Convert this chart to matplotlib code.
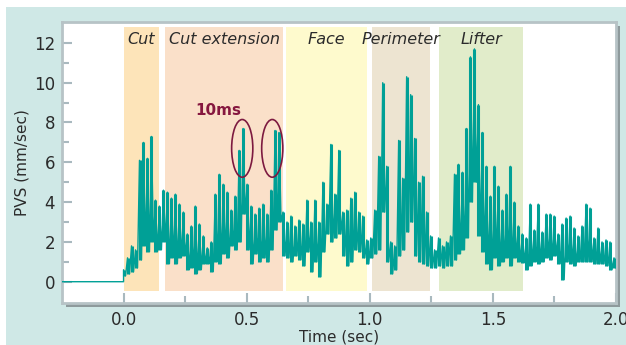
import numpy as np
import matplotlib.pyplot as plt
from matplotlib.patches import Ellipse, Rectangle

# PVS trace: per time bin a high and a low value (mm/sec)
pvs_hi = [0.6, 1.2, 1.8, 1.6, 6.1, 7.0, 6.2, 7.3, 4.1, 3.8, 4.6, 4.5, 4.2, 4.4, 3.9, 3.5,
          2.4, 2.8, 3.8, 2.9, 2.3, 1.7, 2.0, 4.4, 5.4, 4.9, 4.5, 3.6, 4.3, 6.6, 7.7, 4.9,
          3.8, 3.4, 3.7, 3.9, 3.4, 4.6, 7.6, 7.5, 3.5, 3.0, 3.3, 2.8, 3.1, 2.9, 4.1, 3.0,
          4.1, 3.0, 5.0, 3.9, 6.9, 4.4, 6.6, 3.5, 3.6, 4.2, 4.5, 3.5, 3.3, 2.1, 2.2, 3.6,
          6.3, 10.0, 5.8, 2.0, 1.8, 7.1, 5.2, 10.3, 9.4, 7.2, 5.0, 5.3, 3.5, 2.3, 1.6, 2.2,
          1.8, 2.0, 2.3, 5.4, 5.9, 5.5, 7.7, 11.3, 11.7, 8.9, 7.5, 5.8, 4.3, 5.8, 4.8, 3.6,
          4.4, 5.8, 4.0, 2.8, 2.4, 2.2, 3.9, 2.6, 3.9, 2.5, 3.4, 3.4, 3.3, 2.4, 2.9, 3.2,
          3.3, 2.7, 2.3, 2.8, 3.9, 3.7, 2.2, 2.7, 2.0, 2.1, 2.0, 1.2]
pvs_lo = [0.3, 0.4, 0.5, 0.7, 1.1, 1.8, 1.5, 2.0, 1.5, 1.6, 2.0, 0.9, 1.2, 0.9, 1.2, 1.3,
          0.6, 0.7, 0.4, 0.6, 0.9, 0.9, 0.5, 1.0, 0.9, 1.4, 1.2, 1.8, 1.6, 2.0, 3.4, 1.6,
          0.9, 1.4, 1.0, 1.2, 1.0, 1.6, 2.6, 3.0, 1.3, 1.2, 1.0, 1.3, 1.1, 0.8, 1.5, 0.5,
          1.0, 0.25, 1.5, 2.4, 2.0, 2.2, 2.4, 1.3, 0.8, 1.0, 1.6, 1.5, 1.2, 0.9, 1.2, 1.4,
          1.6, 3.5, 1.0, 0.4, 0.6, 1.3, 1.6, 2.5, 3.0, 1.3, 1.0, 0.9, 0.8, 0.7, 0.7, 0.8,
          0.7, 0.8, 0.8, 1.1, 1.4, 1.6, 2.2, 4.0, 5.0, 2.3, 1.5, 0.9, 0.6, 1.2, 0.8, 1.0,
          1.2, 0.8, 1.2, 1.0, 0.95, 0.6, 0.8, 1.0, 0.9, 1.0, 1.2, 1.1, 1.3, 0.9, 0.1, 1.0,
          0.9, 0.8, 1.0, 1.0, 1.0, 1.0, 0.9, 0.9, 0.9, 0.8, 0.6, 0.7]
t_start, t_end = 0.0, 2.0
pre_t = [-0.25, 0.0]
pre_v = [0.0, 0.0]

phases = ['Cut', 'Cut extension', 'Face', 'Perimeter', 'Lifter']
phase_start = [0.0, 0.168, 0.66, 1.01, 1.283]
phase_end = [0.145, 0.648, 0.99, 1.245, 1.623]
phase_colors = ['#fde4b9', '#fae0c9', '#fefacd', '#ede4d1', '#e1ecca']

marks_t = [0.482, 0.604]
marks_v = 6.7

teal = '#00a096'

vals = []
for h, l in zip(pvs_hi, pvs_lo):
    vals += [h, l]
t = np.linspace(t_start, t_end, len(vals))
t_bin = t[0::2]

fig = plt.figure(figsize=(6.26, 3.45), dpi=100, facecolor='white')
fig.patches.append(Rectangle((6 / 626, 0), 1, 1 - 7 / 345, transform=fig.transFigure,
                             facecolor='#cfe8e6', edgecolor='none', zorder=0))
pos = [62 / 626, 42 / 345, 554 / 626, 281 / 345]
fig.patches.append(Rectangle((pos[0] + 4 / 626, pos[1] - 4 / 345), pos[2], pos[3],
                             transform=fig.transFigure, facecolor='#8e9a9c',
                             edgecolor='none', zorder=1))
ax = fig.add_axes(pos)
ax.set_zorder(2)

for s, e, c in zip(phase_start, phase_end, phase_colors):
    ax.fill_between([s, e], -0.45, 12.8, color=c, lw=0, zorder=1)
for name, s, e in zip(phases, phase_start, phase_end):
    ax.text((s + e) / 2, 12.15, name, ha='center', va='center', style='italic',
            fontsize=11.5, color='#2b2b2b', zorder=4)

ax.plot(pre_t + list(t), pre_v + vals, color=teal, lw=1.0, zorder=3)
ax.vlines(t_bin, pvs_lo, pvs_hi, color=teal, lw=2.2, zorder=3)

for m in marks_t:
    ax.add_patch(Ellipse((m, marks_v), 0.086, 2.9, fill=False, edgecolor='#7d1a40',
                         lw=1.2, zorder=5))
ax.text(0.384, 8.6, '10ms', ha='center', va='center', fontsize=11, fontweight='bold',
        color='#86173f', zorder=5)

ax.set_xlim(-0.25, 2.0)
ax.set_ylim(-1.07, 13.05)
ax.set_xticks([0.0, 0.5, 1.0, 1.5, 2.0])
ax.set_xticklabels(['0.0', '0.5', '1.0', '1.5', '2.0'])
ax.set_xticks([0.25, 0.75, 1.25, 1.75], minor=True)
ax.set_yticks(range(0, 13, 2))
ax.set_yticks(range(1, 13, 2), minor=True)
ax.tick_params(which='both', direction='in', color='#a9b9bf', width=1.5,
               labelsize=12, labelcolor='#2b2b2b')
ax.tick_params(which='major', length=7)
ax.tick_params(which='minor', length=5)
ax.tick_params(axis='x', pad=6)
ax.tick_params(axis='y', pad=5)
for sp in ax.spines.values():
    sp.set_color('#b7c3c6')
    sp.set_linewidth(2)

ax.set_xlabel('Time (sec)', fontsize=11, color='#2b2b2b', labelpad=0)
ax.set_ylabel('PVS (mm/sec)', fontsize=11, color='#2b2b2b', labelpad=3)

fig.savefig('out.png', dpi=100, facecolor=fig.get_facecolor())
